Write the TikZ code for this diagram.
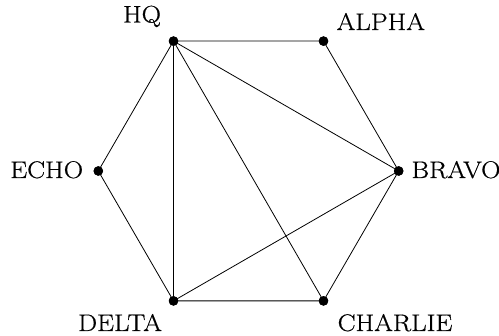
\documentclass[tikz,border=0pt]{standalone}
\usepackage{fontspec}
\setmainfont{Latin Modern Roman}[FakeStretch=1.12,FakeBold=0.6]
\begin{document}
\begin{tikzpicture}[x=1pt,y=1pt,
  vtx/.style={circle,fill=black,inner sep=0pt,minimum size=9.5pt},
  lbl/.style={anchor=base,inner sep=0pt,font=\fontsize{24}{28}\selectfont},
  edge/.style={line width=0.8pt}]
\useasboundingbox (0,0) rectangle (499,336);
\node[vtx] (HQ) at (173.5,294.9) {};
\node[vtx] (ALPHA) at (323.5,294.9) {};
\node[vtx] (BRAVO) at (398.7,165) {};
\node[vtx] (CHARLIE) at (323.5,35.1) {};
\node[vtx] (DELTA) at (173.5,35.1) {};
\node[vtx] (ECHO) at (98.3,165) {};
\node[lbl] (lHQ) at (142,313.5) {HQ};
\node[lbl] (lALPHA) at (380.8,306) {ALPHA};
\node[lbl] (lBRAVO) at (456,158) {BRAVO};
\node[lbl] (lCHARLIE) at (395,5) {CHARLIE};
\node[lbl] (lDELTA) at (120,5) {DELTA};
\node[lbl] (lECHO) at (46.7,158) {ECHO};
\draw[edge] (HQ.center) -- (ALPHA.center) -- (BRAVO.center) -- (CHARLIE.center) -- (DELTA.center) -- (ECHO.center) -- (HQ.center);
\draw[edge] (HQ.center) -- (DELTA.center);
\draw[edge] (HQ.center) -- (BRAVO.center);
\draw[edge] (HQ.center) -- (CHARLIE.center);
\draw[edge] (DELTA.center) -- (BRAVO.center);
\foreach \n in {HQ,ALPHA,BRAVO,CHARLIE,DELTA,ECHO}
  \fill (\n) circle (4.75pt);
\end{tikzpicture}
\end{document}
